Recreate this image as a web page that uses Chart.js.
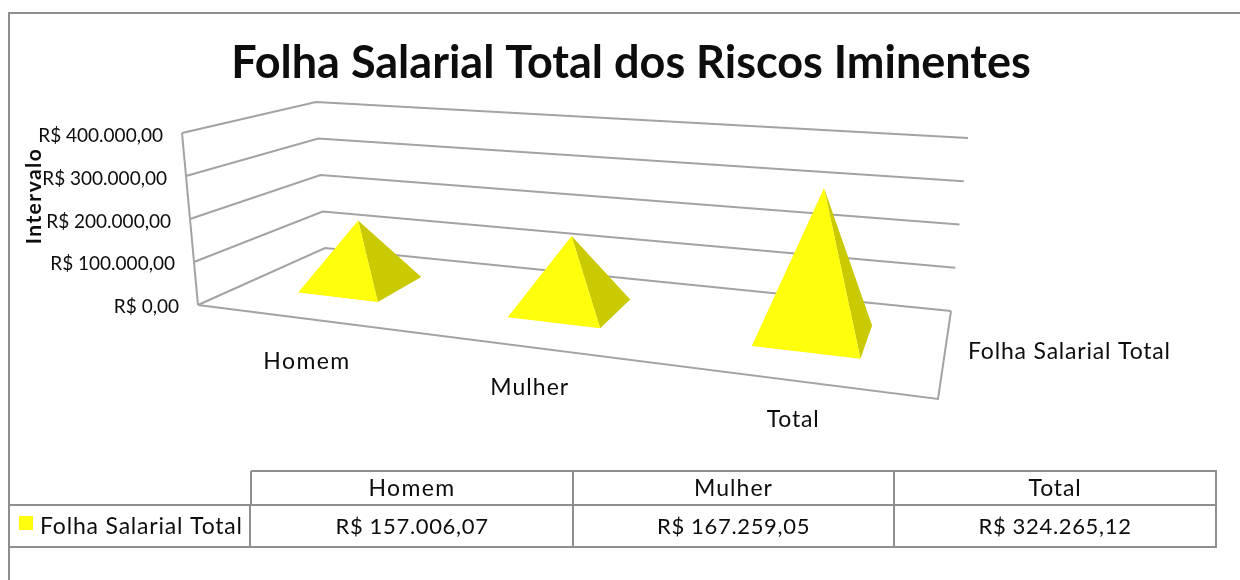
<!DOCTYPE html>
<html lang="pt-BR">
<head>
<meta charset="utf-8">
<title>Folha Salarial Total dos Riscos Iminentes</title>
<script src="https://cdn.jsdelivr.net/npm/chart.js@4/dist/chart.umd.min.js"></script>
<style>
html,body{margin:0;padding:0;background:#fff;}
#wrap{width:1240px;height:580px;position:relative;overflow:hidden;}
canvas{display:block;}
</style>
</head>
<body>
<div id="wrap"><canvas id="c" width="1240" height="580"></canvas></div>
<script>
const categories = ['Homem', 'Mulher', 'Total'];
const seriesName = 'Folha Salarial Total';
const salaryValues = [157006.07, 167259.05, 324265.12];
const tableValues = ['R$ 157.006,07', 'R$ 167.259,05', 'R$ 324.265,12'];
const axisMax = 400000;
const axisStep = 100000;

const FONT = 'Lato, "Open Sans", sans-serif';
const LINE = '#a3a3a3';
const FRAME = '#8f8f8f';
const INK = '#0d0d0d';

/* Perspective frame of the 3D floor, and the lean of the verticals at its corners */
const floorQuad = [[198,305],[938,399],[951,311],[325,248]]; // front-left, front-right, back-right, back-left
const leanQuad  = [[-16,-172],[19,-200],[17,-173],[-9,-146]];

function homography(q){
  const [p0,p1,p2,p3] = q;
  const dx1=p1[0]-p2[0], dx2=p3[0]-p2[0], sx=p0[0]-p1[0]+p2[0]-p3[0];
  const dy1=p1[1]-p2[1], dy2=p3[1]-p2[1], sy=p0[1]-p1[1]+p2[1]-p3[1];
  const det=dx1*dy2-dx2*dy1;
  const g=(sx*dy2-dx2*sy)/det, h=(dx1*sy-sx*dy1)/det;
  const a=p1[0]-p0[0]+g*p1[0], b=p3[0]-p0[0]+h*p3[0], c=p0[0];
  const d=p1[1]-p0[1]+g*p1[1], e=p3[1]-p0[1]+h*p3[1], f=p0[1];
  return (u,v)=>{const w=g*u+h*v+1;return [(a*u+b*v+c)/w,(d*u+e*v+f)/w];};
}
const floorH = homography(floorQuad);
/* u: across categories 0..1, depth: 0 front..1 back, t: axis fraction 0..1 */
function project(u, depth, t){
  const a=floorH(u,depth);
  const [fl,fr,br,bl]=leanQuad;
  const lean=k=>(fl[k]*(1-u)+fr[k]*u)*(1-depth)+(bl[k]*(1-u)+br[k]*u)*depth;
  return [a[0]+lean(0)*t, a[1]+lean(1)*t];
}
const fracU = (chart, px) => (px - chart.chartArea.left) / chart.chartArea.width * 1.006;
const fracT = (chart, px) => (chart.chartArea.bottom - px) / chart.chartArea.height;

/* Linear axis whose tick labels follow the slanted front edge of the side wall */
class WallScale extends Chart.LinearScale {
  _computeLabelItems(chartArea){
    const items = super._computeLabelItems(chartArea);
    items.forEach(it => {
      const y = it.options.translation[1];
      const t = (chartArea.bottom - y) / (chartArea.bottom - chartArea.top);
      it.options.translation[0] = project(0,0,t)[0] - 19;
    });
    return items;
  }
}
WallScale.id = 'wall';
WallScale.defaults = {};
Chart.register(WallScale);

function stroke(ctx, pts, color, width){
  ctx.beginPath();
  pts.forEach((p,i)=> i?ctx.lineTo(p[0],p[1]):ctx.moveTo(p[0],p[1]));
  ctx.strokeStyle=color; ctx.lineWidth=width; ctx.lineJoin='miter'; ctx.stroke();
}
function fill(ctx, pts, color){
  ctx.beginPath();
  pts.forEach((p,i)=> i?ctx.lineTo(p[0],p[1]):ctx.moveTo(p[0],p[1]));
  ctx.closePath(); ctx.fillStyle=color; ctx.fill();
}
/* The reference text is tracked slightly wider than the font's natural advance */
function spaced(ctx, text, x, y, stretch){
  ctx.letterSpacing='0px';
  const w=ctx.measureText(text).width;
  ctx.letterSpacing=((stretch-1)*w/text.length).toFixed(3)+'px';
  ctx.fillText(text,x,y);
  ctx.letterSpacing='0px';
}

const threeD = {
  id:'threeD',
  beforeDatasetsDraw(chart){
    const ctx=chart.ctx, y=chart.scales.y;
    ctx.save();
    // walls: one slanted grid line per axis tick
    y.ticks.forEach(tk=>{
      const t=fracT(chart,y.getPixelForValue(tk.value));
      stroke(ctx,[project(0,0,t),project(0,1,t),project(1,1,t)],LINE,2);
    });
    stroke(ctx,[project(0,0,0),project(0,0,1)],LINE,2);
    stroke(ctx,[project(0,0,0),project(1,0,0),project(1,1,0)],LINE,2);
    ctx.restore();
  },
  afterDatasetsDraw(chart){
    const ctx=chart.ctx, meta=chart.getDatasetMeta(0);
    ctx.save();
    meta.data.forEach((bar,i)=>{
      const hw=bar.width/chart.chartArea.width/2;
      const u=fracU(chart,bar.x), t=fracT(chart,bar.y);
      const d0=0.30, d1=0.70;
      const L=project(u-hw,d0,0), F=project(u+hw,d0,0), R=project(u+hw,d1,0);
      const A=project(u,(d0+d1)/2,t);
      fill(ctx,[A,F,R],'#caca00');
      fill(ctx,[A,L,F],'#ffff0c');
      // category label, hung below the front edge of the floor
      const p=project(u,0,0);
      ctx.font='23px '+FONT; ctx.fillStyle=INK;
      ctx.textAlign='center'; ctx.textBaseline='middle';
      spaced(ctx,categories[i],p[0]+10-10*u,p[1]+45-7*u,1.087);
    });
    // series label to the right of the floor
    ctx.font='23px '+FONT; ctx.fillStyle=INK;
    ctx.textAlign='left'; ctx.textBaseline='middle';
    spaced(ctx,seriesName,968,352,1.087);
    // axis title
    ctx.save();
    ctx.translate(41,196); ctx.rotate(-Math.PI/2);
    ctx.font='bold 21px '+FONT; ctx.textAlign='center'; ctx.textBaseline='alphabetic'; ctx.fillStyle=INK;
    spaced(ctx,'Intervalo',0,0,1.16);
    ctx.restore();
    ctx.restore();
  },
  afterDraw(chart){
    const ctx=chart.ctx;
    const xs=[251,573,894,1216], yTop=471, yMid=505, yBot=547, xL=9;
    ctx.save();
    // outer frame
    stroke(ctx,[[9,580],[9,13],[1240,13]],FRAME,2);
    // data table
    stroke(ctx,[[xs[0],yTop],[xs[3],yTop],[xs[3],yBot],[xL,yBot]],FRAME,2);
    stroke(ctx,[[xL,yMid],[xs[3],yMid]],FRAME,2);
    stroke(ctx,[[xs[0],yTop],[xs[0],yMid]],FRAME,2);
    stroke(ctx,[[xs[0]-1,yMid],[xs[0]-1,yBot]],FRAME,2);
    xs.slice(1,3).forEach(x=>stroke(ctx,[[x,yTop],[x,yBot]],FRAME,2));
    ctx.fillStyle=INK; ctx.textBaseline='middle'; ctx.textAlign='center';
    categories.forEach((c,i)=>{
      const cx=(xs[i]+xs[i+1])/2;
      ctx.font='23px '+FONT;
      spaced(ctx,c,cx,489,1.087);
      ctx.font='22px '+FONT;
      spaced(ctx,tableValues[i],cx,527,1.06);
    });
    ctx.fillStyle='#ffff0c'; ctx.fillRect(19,516,14,14);
    ctx.fillStyle=INK; ctx.textAlign='left';
    ctx.font='23px '+FONT;
    spaced(ctx,seriesName,40,527,1.087);
    ctx.restore();
  }
};

new Chart(document.getElementById('c'),{
  type:'bar',
  data:{labels:categories,datasets:[{
    label:seriesName,data:salaryValues,
    backgroundColor:'rgba(255,255,0,0)',borderWidth:0,
    categoryPercentage:0.40,barPercentage:1,yAxisID:'y'
  }]},
  plugins:[threeD],
  options:{
    responsive:false,animation:false,
    layout:{padding:{left:22,right:0,bottom:273,top:0}},
    plugins:{
      legend:{display:false},
      tooltip:{enabled:false},
      title:{display:true,text:'Folha Salarial Total dos Riscos Iminentes',
        color:INK,font:{family:FONT,size:45,weight:'bold'},
        padding:{top:36,bottom:46}}
    },
    scales:{
      x:{display:false,type:'category'},
      y:{type:'wall',min:0,max:axisMax,
        afterFit(s){s.width=175;},
        grid:{display:false},border:{display:false},
        ticks:{stepSize:axisStep,color:INK,font:{family:FONT,size:19},
          callback:v=>'R$ '+v.toLocaleString('pt-BR',{minimumFractionDigits:2,maximumFractionDigits:2})}
      },
      sideSpace:{type:'linear',position:'right',min:0,max:1,
        afterFit(s){s.width=302;},
        grid:{display:false},border:{display:false},ticks:{display:false}
      }
    }
  }
});
</script>
</body>
</html>
